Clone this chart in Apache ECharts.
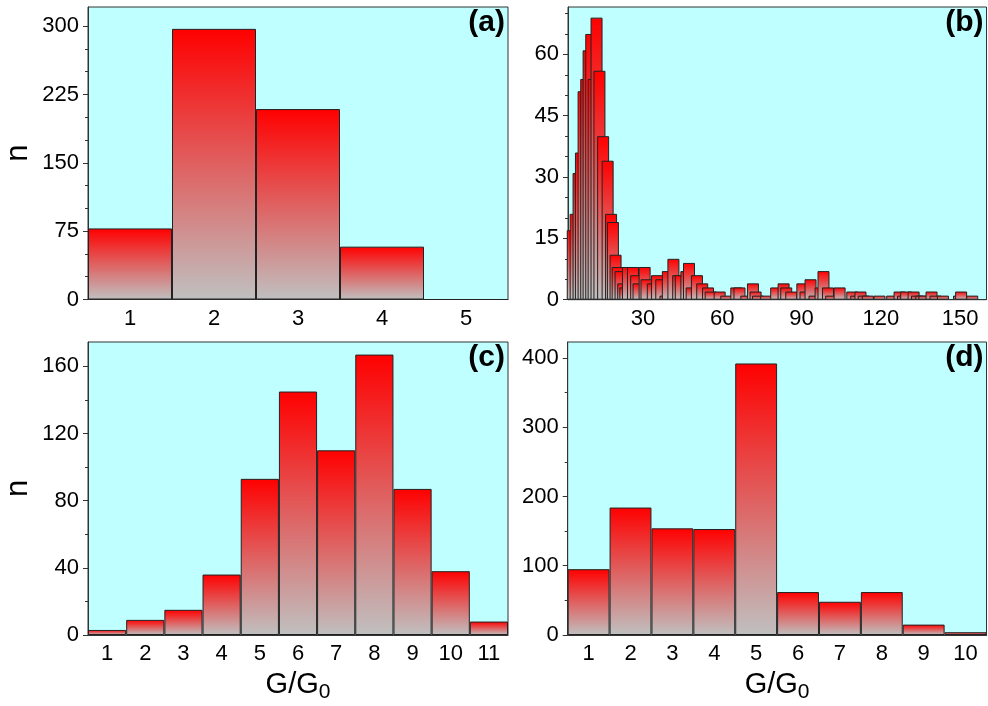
<!DOCTYPE html>
<html>
<head>
<meta charset="utf-8">
<script src="https://cdn.jsdelivr.net/npm/echarts@6/dist/echarts.min.js"></script>
<style>
  html, body { margin: 0; padding: 0; background: #ffffff; }
  #chart { width: 988px; height: 706px; }
</style>
</head>
<body>
<div id="chart"></div>
<script>
// Panel (a): counts per conductance bin
const aCats = ['1', '2', '3', '4', '5'];
const aCounts = [78, 297, 209, 58, 0];

// Panel (b): fine-grained histogram (bin centre in G/G0, count)
const bG = [3.4, 4.5, 5.6, 6.5, 7.5, 8.5, 9.4, 10.4, 11.3, 12.4, 13.5, 14.9, 16.6, 17.9, 18.6, 19.6,
  20.4, 21.5, 22.5, 23.3, 24.3, 26.2, 27.4, 28.3, 30.6, 31.3, 33.7, 35.3, 36.9, 38.5, 39.4, 41.5,
  43.3, 44.3, 46.4, 47.4, 48.4, 50.4, 52.4, 54.6, 55.6, 59.0, 61.5, 65.3, 66.5, 69.1, 71.6, 72.6,
  73.5, 76.6, 80.4, 83.2, 84.2, 86.1, 90.3, 91.5, 93.4, 94.9, 97.2, 98.3, 100.0, 101.2, 104.4,
  109.2, 110.7, 112.3, 113.5, 115.1, 119.5, 124.3, 127.1, 128.4, 129.6, 132.4, 133.7, 135.3,
  136.5, 139.2, 140.7, 143.5, 149.6, 150.4, 154.6];
const bN = [17, 21, 31, 36, 51, 54, 61, 65, 54, 69, 56, 40, 34, 21, 19, 11,
  8, 7, 4, 3, 8, 8, 6, 4, 8, 5, 4, 6, 5, 1, 7, 10,
  6, 6, 7, 9, 3, 6, 4, 3, 2, 2, 1, 3, 3, 1, 4, 2,
  1, 1, 3, 4, 3, 2, 4, 2, 5, 1, 3, 7, 3, 1, 3,
  2, 1, 2, 1, 1, 1, 1, 2, 1, 2, 2, 1, 1,
  1, 2, 1, 1, 1, 2, 1];

// Panel (c)
const cCats = ['1', '2', '3', '4', '5', '6', '7', '8', '9', '10', '11'];
const cCounts = [3, 9, 15, 36, 93, 145, 110, 167, 87, 38, 8];

// Panel (d)
const dCats = ['1', '2', '3', '4', '5', '6', '7', '8', '9', '10'];
const dCounts = [95, 184, 154, 153, 392, 62, 48, 62, 15, 4];

// Tick values
const aMajor = [0, 75, 150, 225, 300];
const aMinor = [25, 50, 100, 125, 175, 200, 250, 275];
const bMajor = [0, 15, 30, 45, 60];
const bMinor = [5, 10, 20, 25, 35, 40, 50, 55, 65, 70];
const bXTicks = [30, 60, 90, 120, 150];
const cMajor = [0, 40, 80, 120, 160];
const cMinor = [20, 60, 100, 140];
const dMajor = [0, 100, 200, 300, 400];
const dMinor = [50, 150, 250, 350];

const FONT = 'Liberation Sans, Arial, sans-serif';
const ink = '#222';

const chart = echarts.init(document.getElementById('chart'), null, { renderer: 'canvas' });

const barFill = () => new echarts.graphic.LinearGradient(0, 0, 0, 1, [
  { offset: 0, color: '#ff0000' },
  { offset: 1, color: '#c0c0c0' }
]);

const grids = [
  { left: 88, top: 7, width: 420, height: 292.5 },
  { left: 568, top: 7, width: 418.5, height: 292.7 },
  { left: 88, top: 342, width: 420, height: 293 },
  { left: 567.7, top: 342, width: 418.8, height: 293 }
].map(g => Object.assign({
  show: true, backgroundColor: '#c0ffff', borderColor: '#333', borderWidth: 1, containLabel: false
}, g));

const labelStyle = { color: '#000', fontSize: 22, fontFamily: FONT };
const lineStyle = { lineStyle: { color: '#333', width: 1 } };

// Axis title with a subscripted zero
const gName = {
  name: '{g|G/G}{s|0}',
  nameLocation: 'middle',
  nameGap: 35,
  nameTextStyle: {
    rich: {
      g: { fontSize: 29, fontFamily: FONT, color: '#000', lineHeight: 30, verticalAlign: 'top' },
      s: { fontSize: 21, fontFamily: FONT, color: '#000', lineHeight: 21, verticalAlign: 'top', padding: [12, 0, 0, 0] }
    }
  }
};

function catX(idx, cats, extra) {
  return Object.assign({
    type: 'category', gridIndex: idx, data: cats,
    axisLine: lineStyle, axisTick: { show: false },
    axisLabel: Object.assign({ margin: 8 }, labelStyle),
    splitLine: { show: false }
  }, extra || {});
}

function yPair(idx, max, major, minor, withName) {
  const main = {
    type: 'value', gridIndex: idx, min: 0, max: max, position: 'left',
    axisLine: Object.assign({ show: true }, lineStyle),
    axisTick: { show: true, length: 5, customValues: major, lineStyle: { color: '#333' } },
    axisLabel: Object.assign({ margin: 9, customValues: major }, labelStyle),
    splitLine: { show: false }
  };
  if (withName) {
    Object.assign(main, {
      name: 'n', nameLocation: 'middle', nameGap: 54, nameRotate: 90,
      nameTextStyle: { fontSize: 31, fontFamily: FONT, color: '#000' }
    });
  }
  const minorAxis = {
    type: 'value', gridIndex: idx, min: 0, max: max, position: 'left', offset: 0,
    axisLine: { show: false },
    axisTick: { show: true, length: 3, customValues: minor, lineStyle: { color: '#333' } },
    axisLabel: { show: false },
    splitLine: { show: false }
  };
  return [main, minorAxis];
}

const xAxis = [
  catX(0, aCats),
  {
    type: 'value', gridIndex: 1, min: 1.6, max: 160,
    axisLine: lineStyle, axisTick: { show: false },
    axisLabel: Object.assign({ margin: 8, customValues: bXTicks }, labelStyle),
    splitLine: { show: false }
  },
  catX(2, cCats, gName),
  catX(3, dCats, gName)
];

const yAxis = [].concat(
  yPair(0, 321, aMajor, aMinor, true),
  yPair(1, 71.6, bMajor, bMinor, false),
  yPair(2, 174.5, cMajor, cMinor, true),
  yPair(3, 423, dMajor, dMinor, false)
);

const barItem = { color: barFill(), borderColor: ink, borderWidth: 1 };

const series = [
  { type: 'bar', xAxisIndex: 0, yAxisIndex: 0, data: aCounts, barCategoryGap: '0%', itemStyle: barItem, silent: true },
  {
    type: 'bar', xAxisIndex: 1, yAxisIndex: 2,
    data: bG.map((g, i) => [g, bN[i]]),
    barWidth: 12, itemStyle: barItem, silent: true
  },
  { type: 'bar', xAxisIndex: 2, yAxisIndex: 4, data: cCounts, barCategoryGap: '0%', itemStyle: barItem, silent: true },
  { type: 'bar', xAxisIndex: 3, yAxisIndex: 6, data: dCounts, barCategoryGap: '0%', itemStyle: barItem, silent: true }
];

// Panel tags, anchored to the top-right corner of each plot
const tags = ['(a)', '(b)', '(c)', '(d)'];
const graphic = grids.map((g, i) => ({
  type: 'text',
  right: 988 - (g.left + g.width) + 3,
  top: g.top + 1,
  style: { text: tags[i], font: 'bold 30px ' + FONT, fill: '#000' },
  silent: true
}));

chart.setOption({
  animation: false,
  backgroundColor: '#ffffff',
  grid: grids,
  xAxis: xAxis,
  yAxis: yAxis,
  series: series,
  graphic: graphic
});
</script>
</body>
</html>
